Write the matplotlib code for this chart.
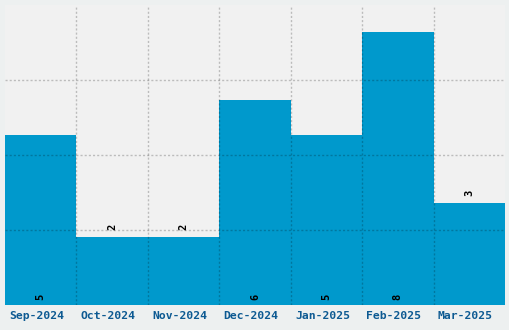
import matplotlib
matplotlib.use("Agg")
import matplotlib.pyplot as plt
import matplotlib.transforms as mtransforms
import numpy as np

categories = ["Sep-2024", "Oct-2024", "Nov-2024", "Dec-2024", "Jan-2025", "Feb-2025", "Mar-2025"]
values = [5, 2, 2, 6, 5, 8, 3]

fig = plt.figure(figsize=(5.1, 3.3), dpi=100, facecolor="#edf0f0")
ax = fig.add_axes([5/510, 25/330, 500/510, 300/330])
ax.set_facecolor("#f1f1f1")

x = np.arange(len(categories))
ax.bar(x, values, width=1.0, color="#0099cc", zorder=1)
ax.set_xlim(-0.5, len(categories) - 0.5)
ax.set_ylim(0, 8.8)

# grid lines on top
for b in np.arange(0.5, len(categories) - 0.5, 1.0):
    ax.axvline(b, color="black", alpha=0.22, lw=1, ls=(0, (1.5, 1.5)), zorder=3)
for g in [2.2, 4.4, 6.6]:
    ax.axhline(g, color="black", alpha=0.22, lw=1, ls=(0, (1.5, 1.5)), zorder=3)

ax.set_xticks(x)
ax.set_xticklabels(categories, family="DejaVu Sans Mono", fontweight="bold",
                   fontsize=8.2, color="#0d5a92")
ax.tick_params(axis="x", length=0, pad=4)
offset = mtransforms.ScaledTranslation(-0.04, 0, fig.dpi_scale_trans)
for lbl in ax.get_xticklabels():
    lbl.set_transform(lbl.get_transform() + offset)
ax.set_yticks([])
for s in ax.spines.values():
    s.set_visible(False)

for xi, v in zip(x, values):
    y = 0.15 if v >= 5 else v + 0.2
    ax.text(xi, y, str(v), rotation=90, ha="center", va="bottom",
            family="DejaVu Sans Mono", fontweight="bold", fontsize=7.5,
            color="black", zorder=4)

fig.savefig("out.png", dpi=100, facecolor=fig.get_facecolor())
